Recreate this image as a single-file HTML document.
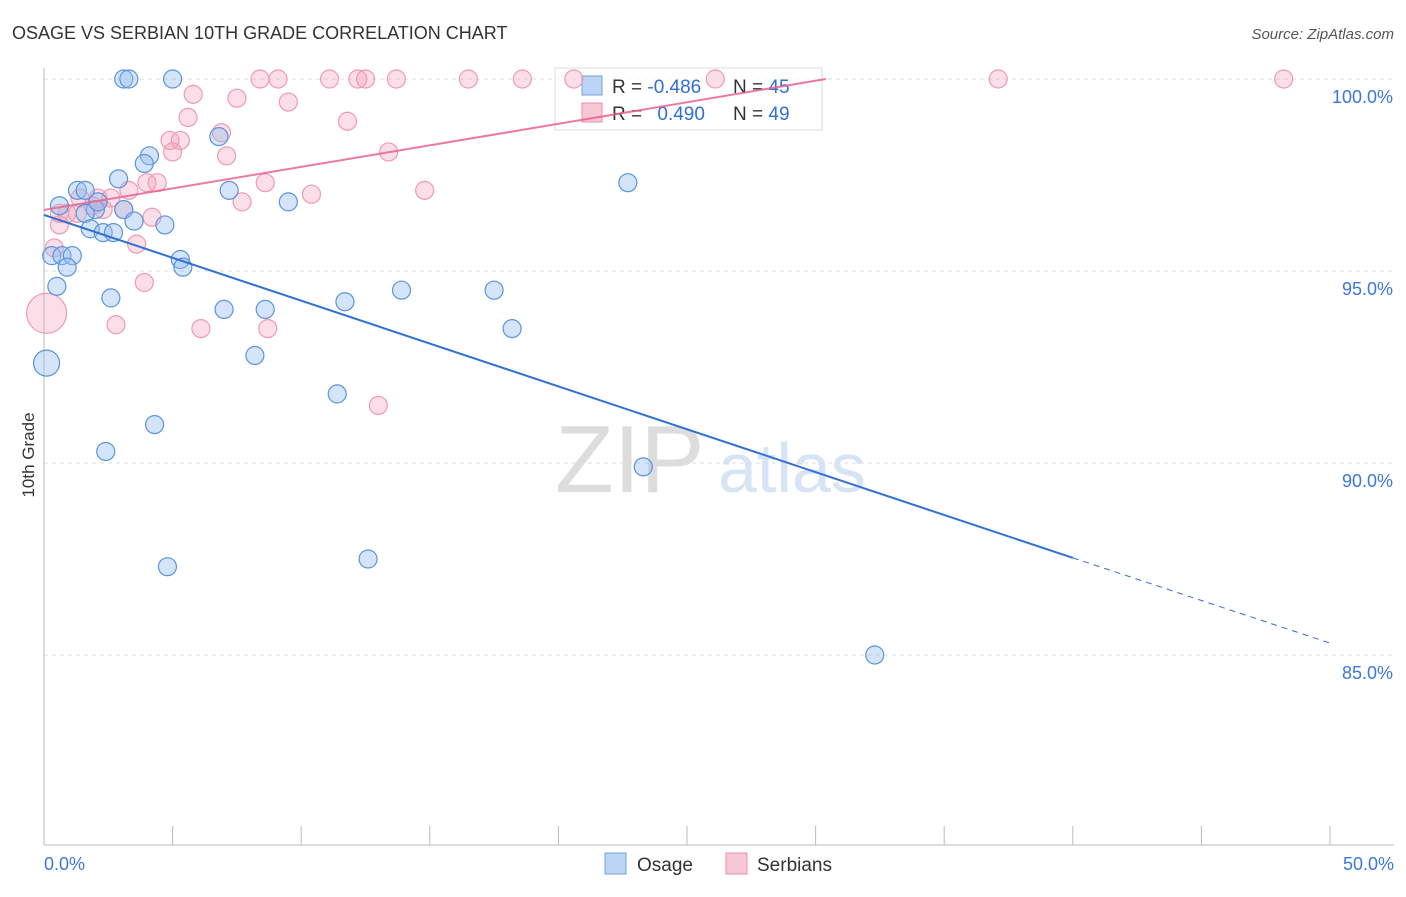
<!DOCTYPE html>
<html><head><meta charset="utf-8"><style>
body{margin:0;background:#fff;font-family:"Liberation Sans",sans-serif;}
svg text{font-family:"Liberation Sans",sans-serif;}
</style></head><body>
<svg id="chart" width="1406" height="892" xmlns="http://www.w3.org/2000/svg">
<text x="12" y="39" font-size="18" fill="#333">OSAGE VS SERBIAN 10TH GRADE CORRELATION CHART</text>
<text x="1394" y="39" font-size="15" fill="#555" font-style="italic" text-anchor="end">Source: ZipAtlas.com</text>
<text x="34" y="455" font-size="17" fill="#333" transform="rotate(-90 34 455)" text-anchor="middle">10th Grade</text>
<text x="555" y="492" font-size="96" fill="#ddd" font-family="Liberation Serif">ZIP</text>
<text x="718" y="492" font-size="70" fill="#d6e4f5">atlas</text>
<g id="grid"></g><g id="axes"></g>
<g>
<rect x="555" y="68" width="267" height="62" fill="#fff" fill-opacity="0.75" stroke="#ddd"/>
<rect x="582" y="76" width="20" height="19" fill="#bcd5f5" stroke="#6f9fe0"/>
<rect x="582" y="103" width="20" height="19" fill="#f9c6d4" stroke="#ea8fab"/>
<text x="612" y="93" font-size="19" fill="#333">R = <tspan fill="#2f6fd6">-0.486</tspan></text>
<text x="733" y="93" font-size="19" fill="#333">N = <tspan fill="#2f6fd6">45</tspan></text>
<text x="612" y="120" font-size="19" fill="#333">R = <tspan fill="#2f6fd6" dx="10">0.490</tspan></text>
<text x="733" y="120" font-size="19" fill="#333">N = <tspan fill="#2f6fd6">49</tspan></text>
</g>
<g id="pts"></g><g id="lines"></g>
<g>
<rect x="605" y="853" width="21" height="21" fill="#bcd5f5" stroke="#6f9fe0"/>
<text x="637" y="871" font-size="19" fill="#333">Osage</text>
<rect x="726" y="853" width="21" height="21" fill="#f9c6d4" stroke="#ea8fab"/>
<text x="757" y="871" font-size="19" fill="#333">Serbians</text>
</g>
</svg>
<script>
const yTicks=[100,95,90,85];
const xTickLabels=["0.0%","50.0%"];
const osageX=[3.1,3.3,5.0,6.8,4.1,3.9,2.9,1.3,1.6,0.6,2.0,3.1,1.6,1.8,2.3,2.7,3.5,4.7,7.2,9.5,2.1,0.3,0.7,1.1,0.9,5.3,5.4,0.5,2.6,7.0,8.6,11.7,13.9,17.5,18.2,22.7,0.1,8.2,11.4,4.3,2.4,23.3,4.8,12.6,32.3];
const osageY=[100,100,100,98.5,98.0,97.8,97.4,97.1,97.1,96.7,96.6,96.6,96.5,96.1,96.0,96.0,96.3,96.2,97.1,96.8,96.8,95.4,95.4,95.4,95.1,95.3,95.1,94.6,94.3,94.0,94.0,94.2,94.5,94.5,93.5,97.3,92.6,92.8,91.8,91.0,90.3,89.9,87.3,87.5,85.0];
const osageR=[9,9,9,9,9,9,9,9,9,9,9,9,9,9,9,9,9,9,9,9,9,9,9,9,9,9,9,9,9,9,9,9,9,9,9,9,13,9,9,9,9,9,9,9,9];
const serbX=[5.8,7.5,9.5,11.8,5.6,6.9,4.9,5.3,5.0,7.1,13.4,3.3,4.0,4.4,8.6,10.4,14.8,7.7,2.1,2.6,1.4,3.1,2.3,1.3,0.9,0.6,4.2,3.6,0.4,3.9,2.8,6.1,8.7,13.0,0.1,8.4,9.1,11.1,12.2,12.5,13.7,16.5,18.6,20.6,26.1,37.1,48.2,1.9,0.6];
const serbY=[99.6,99.5,99.4,98.9,99.0,98.6,98.4,98.4,98.1,98.0,98.1,97.1,97.3,97.3,97.3,97.0,97.1,96.8,96.9,96.9,96.9,96.6,96.6,96.5,96.5,96.2,96.4,95.7,95.6,94.7,93.6,93.5,93.5,91.5,93.9,100,100,100,100,100,100,100,100,100,100,100,100,96.7,96.5];
const serbR=[9,9,9,9,9,9,9,9,9,9,9,9,9,9,9,9,9,9,9,9,9,9,9,9,9,9,9,9,9,9,9,9,9,9,20,9,9,9,9,9,9,9,9,9,9,9,9,9,9];
const osageTrend=[[0,96.46],[40,87.53],[50,85.31]];
const serbTrend=[[0,96.59],[30.4,100]];
const NS="http://www.w3.org/2000/svg";
const X=v=>44+v/50*1286, Y=v=>79+(100-v)/5*192;
function mk(t,a,p){const e=document.createElementNS(NS,t);for(const k in a)e.setAttribute(k,a[k]);p.appendChild(e);return e;}
const grid=document.getElementById('grid'),axes=document.getElementById('axes'),pts=document.getElementById('pts'),lines=document.getElementById('lines');
yTicks.forEach(t=>{const l=mk('line',{x1:44,x2:1394,y1:Y(t),y2:Y(t),stroke:'#ddd','stroke-dasharray':'4,4'},grid);


const tx=mk('text',{x:1393,y:Y(t)+24,'font-size':18,fill:'#3b78d8','text-anchor':'end'},grid);tx.textContent=t.toFixed(1)+'%';

});
mk('line',{x1:44,x2:44,y1:68,y2:845,stroke:'#bbb'},axes);
mk('line',{x1:44,x2:1394,y1:845,y2:845,stroke:'#bbb'},axes);
for(let i=0;i<=10;i++){const tk=mk('line',{x1:X(i*5),x2:X(i*5),y1:826,y2:845,stroke:'#bbb'},axes);

}
[[0,'start',44],[1,'end',1394]].forEach(([i,a,x])=>{const t=mk('text',{x:x,y:870,'font-size':18,fill:'#3b78d8','text-anchor':a},axes);t.textContent=xTickLabels[i];

});
serbX.forEach((v,i)=>{const c=mk('circle',{cx:X(v),cy:Y(serbY[i]),r:serbR[i],fill:'rgba(244,160,186,0.35)',stroke:'#ee9ab2','stroke-width':1.2},pts);

});
osageX.forEach((v,i)=>{const c=mk('circle',{cx:X(v),cy:Y(osageY[i]),r:osageR[i],fill:'rgba(150,190,240,0.4)',stroke:'#5b93de','stroke-width':1.2},pts);

});
const o1=mk('line',{x1:X(osageTrend[0][0]),y1:Y(osageTrend[0][1]),x2:X(osageTrend[1][0]),y2:Y(osageTrend[1][1]),stroke:'#2f6fd6','stroke-width':2},lines);


const o2=mk('line',{x1:X(osageTrend[1][0]),y1:Y(osageTrend[1][1]),x2:X(osageTrend[2][0]),y2:Y(osageTrend[2][1]),stroke:'#2f6fd6','stroke-width':1,'stroke-dasharray':'6,5'},lines);


const s1=mk('line',{x1:X(serbTrend[0][0]),y1:Y(serbTrend[0][1]),x2:X(serbTrend[1][0]),y2:Y(serbTrend[1][1]),stroke:'#e8638f','stroke-width':2,'stroke-opacity':0.85},lines);


</script>
</body></html>
